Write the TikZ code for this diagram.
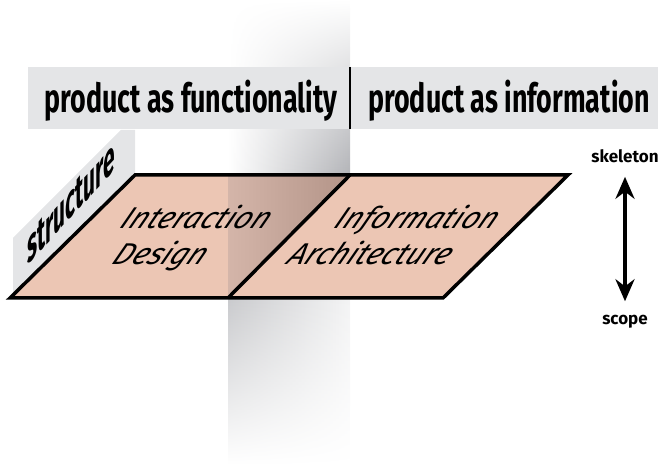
\documentclass[tikz,border=0pt]{standalone}
\usepackage{fontspec}
\setmainfont{Fira Sans}
\IfFontExistsTF{FiraSans-SemiBold.otf}{\newfontfamily\headfont{FiraSans-SemiBold.otf}}{\newcommand\headfont{\bfseries}}
\IfFontExistsTF{FiraSans-LightItalic.otf}{\newfontfamily\areafont{FiraSans-LightItalic.otf}}{\newcommand\areafont{\itshape}}
\usetikzlibrary{arrows.meta,fadings}
\definecolor{barGray}{HTML}{E4E5E7}
\definecolor{planeFill}{HTML}{ECC6B4}
\definecolor{overlapL}{HTML}{D4B5A9}
\definecolor{overlapR}{HTML}{B39488}
\definecolor{bandDark}{HTML}{B2B3B7}
\begin{document}
\begin{tikzpicture}[x=1pt,y=-1pt,
    edge/.style={line width=3.5pt,line join=miter},
    heading/.style={font=\fontsize{40}{40}\selectfont\headfont,xscale=0.67,inner sep=0pt,anchor=base},
    area/.style={font=\fontsize{30}{30}\selectfont\areafont,xslant=0.55,inner sep=0pt,anchor=base west},
    axislabel/.style={font=\fontsize{17}{17}\selectfont\bfseries,inner sep=0pt},
    twoway/.style={line width=4pt,{Stealth[length=22pt,width=19pt]}-{Stealth[length=22pt,width=19pt]}}]
    \useasboundingbox (0,0) rectangle (667,465);
    % vertical band, below and above the plane
    \shade[left color=bandDark!70!white,right color=bandDark!15!white,path fading=south] (228,298) rectangle (350,465);
    \shade[left color=white,right color=bandDark,path fading=north] (228,0) rectangle (350,175);
    % header bar and side panel
    \fill[barGray] (28,67) rectangle (658,129);
    \fill[barGray] (13,298) -- (13,238) -- (121,130) -- (135,130) -- (135,175) -- cycle;
    \draw[line width=2pt] (350,67) -- (350,129);
    % the plane
    \fill[planeFill] (10,298) -- (135,175) -- (568,175) -- (443,298) -- cycle;
    \shade[left color=overlapL,right color=overlapR] (228,175) -- (350,175) -- (228,298) -- cycle;
    \draw[edge] (10,298) -- (135,175) -- (568,175) -- (443,298) -- cycle;
    \draw[edge] (228,298) -- (350,175);

    \node[heading] (func) at (191,113) {product as functionality};
    \node[heading] (info) at (509,113) {product as information};
    \node[font=\fontsize{38}{38}\selectfont\headfont,inner sep=0pt,anchor=base west,
          cm={0.55,0.6,0,1.25,(0,0)}] (struct) at (27,266) {structure};
    \node[area] (ixd1) at (118,229) {Interaction};
    \node[area] (ixd2) at (110,265) {Design};
    \node[area] (ia1) at (332,229) {Information};
    \node[area] (ia2) at (285,265) {Architecture};

    \node[axislabel] (skel) at (625,156) {skeleton};
    \node[axislabel] (scope) at (625,322) {scope};
    \draw[twoway] ([yshift=-14pt]skel.south) -- ([yshift=14pt]scope.north);
\end{tikzpicture}
\end{document}
